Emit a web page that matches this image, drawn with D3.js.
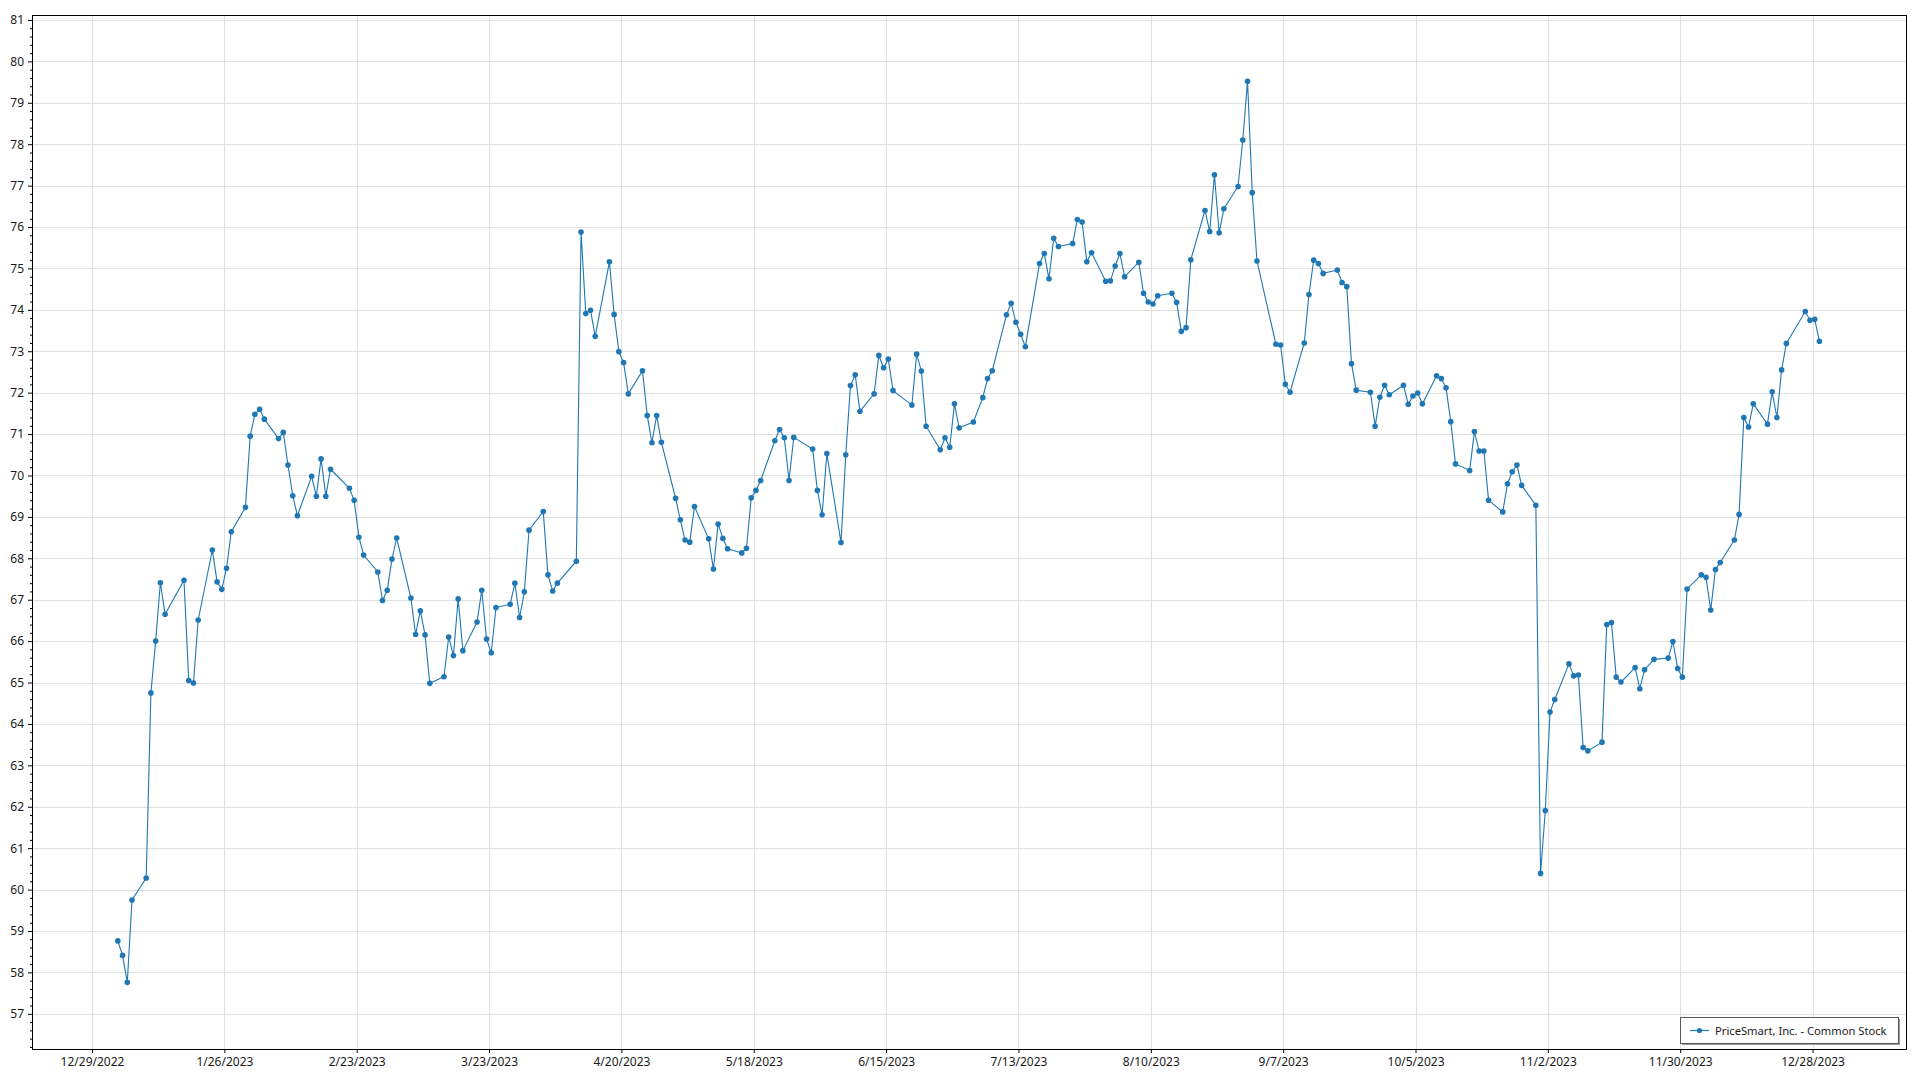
<!DOCTYPE html>
<html>
<head>
<meta charset="utf-8">
<script src="https://cdn.jsdelivr.net/npm/d3@7"></script>
<style>
  html, body { margin: 0; padding: 0; background: #ffffff; }
  svg { display: block; font-family: "Segoe UI", "Noto Sans", sans-serif; }
</style>
</head>
<body>
<svg id="chart" width="1920" height="1080"></svg>
<script>
// ---------- data ----------
const seriesName = "PriceSmart, Inc. - Common Stock";

const dates = [
"2023-01-03","2023-01-04","2023-01-05","2023-01-06","2023-01-09","2023-01-10","2023-01-11","2023-01-12","2023-01-13","2023-01-17",
"2023-01-18","2023-01-19","2023-01-20","2023-01-23","2023-01-24","2023-01-25","2023-01-26","2023-01-27","2023-01-30","2023-01-31",
"2023-02-01","2023-02-02","2023-02-03","2023-02-06","2023-02-07","2023-02-08","2023-02-09","2023-02-10","2023-02-13","2023-02-14",
"2023-02-15","2023-02-16","2023-02-17","2023-02-21","2023-02-22","2023-02-23","2023-02-24","2023-02-27","2023-02-28",
"2023-03-01","2023-03-02","2023-03-03","2023-03-06","2023-03-07","2023-03-08","2023-03-09","2023-03-10","2023-03-13","2023-03-14",
"2023-03-15","2023-03-16","2023-03-17","2023-03-20","2023-03-21","2023-03-22","2023-03-23","2023-03-24","2023-03-27","2023-03-28",
"2023-03-29","2023-03-30","2023-03-31",
"2023-04-03","2023-04-04","2023-04-05","2023-04-06","2023-04-10","2023-04-11","2023-04-12","2023-04-13","2023-04-14","2023-04-17",
"2023-04-18","2023-04-19","2023-04-20","2023-04-21","2023-04-24","2023-04-25","2023-04-26","2023-04-27","2023-04-28",
"2023-05-01","2023-05-02","2023-05-03","2023-05-04","2023-05-05","2023-05-08","2023-05-09","2023-05-10","2023-05-11","2023-05-12",
"2023-05-15","2023-05-16","2023-05-17","2023-05-18","2023-05-19","2023-05-22","2023-05-23","2023-05-24","2023-05-25","2023-05-26",
"2023-05-30","2023-05-31",
"2023-06-01","2023-06-02","2023-06-05","2023-06-06","2023-06-07","2023-06-08","2023-06-09","2023-06-12","2023-06-13","2023-06-14",
"2023-06-15","2023-06-16","2023-06-20","2023-06-21","2023-06-22","2023-06-23","2023-06-26","2023-06-27","2023-06-28","2023-06-29",
"2023-06-30",
"2023-07-03","2023-07-05","2023-07-06","2023-07-07","2023-07-10","2023-07-11","2023-07-12","2023-07-13","2023-07-14","2023-07-17",
"2023-07-18","2023-07-19","2023-07-20","2023-07-21","2023-07-24","2023-07-25","2023-07-26","2023-07-27","2023-07-28","2023-07-31",
"2023-08-01","2023-08-02","2023-08-03","2023-08-04","2023-08-07","2023-08-08","2023-08-09","2023-08-10","2023-08-11","2023-08-14",
"2023-08-15","2023-08-16","2023-08-17","2023-08-18","2023-08-21","2023-08-22","2023-08-23","2023-08-24","2023-08-25","2023-08-28",
"2023-08-29","2023-08-30","2023-08-31",
"2023-09-01","2023-09-05","2023-09-06","2023-09-07","2023-09-08","2023-09-11","2023-09-12","2023-09-13","2023-09-14","2023-09-15",
"2023-09-18","2023-09-19","2023-09-20","2023-09-21","2023-09-22","2023-09-25","2023-09-26","2023-09-27","2023-09-28","2023-09-29",
"2023-10-02","2023-10-03","2023-10-04","2023-10-05","2023-10-06","2023-10-09","2023-10-10","2023-10-11","2023-10-12","2023-10-13",
"2023-10-16","2023-10-17","2023-10-18","2023-10-19","2023-10-20","2023-10-23","2023-10-24","2023-10-25","2023-10-26","2023-10-27",
"2023-10-30","2023-10-31",
"2023-11-01","2023-11-02","2023-11-03","2023-11-06","2023-11-07","2023-11-08","2023-11-09","2023-11-10","2023-11-13","2023-11-14",
"2023-11-15","2023-11-16","2023-11-17","2023-11-20","2023-11-21","2023-11-22","2023-11-24","2023-11-27","2023-11-28","2023-11-29",
"2023-11-30",
"2023-12-01","2023-12-04","2023-12-05","2023-12-06","2023-12-07","2023-12-08","2023-12-11","2023-12-12","2023-12-13","2023-12-14",
"2023-12-15","2023-12-18","2023-12-19","2023-12-20","2023-12-21","2023-12-22","2023-12-26","2023-12-27","2023-12-28","2023-12-29"
];

const closes = [
58.76,58.41,57.76,59.75,60.28,64.75,66.00,67.41,66.65,67.47,
65.05,64.99,66.51,68.20,67.43,67.25,67.76,68.64,69.23,70.95,
71.48,71.60,71.36,70.89,71.04,70.25,69.51,69.03,69.98,69.50,
70.40,69.50,70.15,69.69,69.40,68.51,68.08,67.67,66.98,
67.23,67.98,68.49,67.04,66.16,66.73,66.15,64.98,65.14,66.10,
65.65,67.02,65.77,66.46,67.23,66.05,65.72,66.81,66.89,67.40,
66.57,67.19,68.68,
69.13,67.60,67.21,67.40,67.93,75.88,73.91,73.99,73.36,75.16,
73.89,72.99,72.73,71.97,72.53,71.45,70.79,71.45,70.80,
69.45,68.93,68.44,68.39,69.25,68.47,67.74,68.83,68.48,68.23,
68.13,68.24,69.46,69.64,69.88,70.84,71.11,70.91,69.88,70.92,
70.64,69.64,
69.05,70.53,68.38,70.50,72.17,72.43,71.55,71.97,72.90,72.60,
72.81,72.05,71.70,72.93,72.52,71.19,70.62,70.91,70.68,71.73,
71.15,
71.29,71.88,72.34,72.53,73.88,74.16,73.70,73.41,73.11,75.12,
75.36,74.75,75.73,75.53,75.60,76.18,76.12,75.16,75.38,74.69,
74.70,75.06,75.36,74.80,75.15,74.40,74.19,74.14,74.34,74.40,
74.18,73.48,73.57,75.21,76.40,75.89,77.26,75.86,76.44,76.98,
78.10,79.52,76.83,
75.18,73.17,73.15,72.20,72.01,73.20,74.37,75.20,75.12,74.88,
74.96,74.66,74.56,72.70,72.06,72.01,71.19,71.89,72.18,71.95,
72.18,71.72,71.92,71.99,71.73,72.41,72.34,72.12,71.30,70.28,
70.12,71.06,70.59,70.59,69.40,69.12,69.80,70.09,70.25,69.76,
69.28,60.39,
61.91,64.29,64.59,65.45,65.16,65.18,63.43,63.35,63.56,66.40,
66.45,65.13,65.01,65.36,64.85,65.31,65.56,65.59,65.99,65.34,
65.13,
67.26,67.60,67.54,66.75,67.73,67.90,68.44,69.06,71.40,71.17,
71.73,71.24,72.02,71.40,72.55,73.19,73.96,73.75,73.77,73.24
];

const xTickLabels = ["12/29/2022","1/26/2023","2/23/2023","3/23/2023","4/20/2023","5/18/2023","6/15/2023",
                     "7/13/2023","8/10/2023","9/7/2023","10/5/2023","11/2/2023","11/30/2023","12/28/2023"];
const yTickValues = [57,58,59,60,61,62,63,64,65,66,67,68,69,70,71,72,73,74,75,76,77,78,79,80,81];
const yDomain = [56.15, 81.12];

// ---------- layout ----------
const W = 1920, H = 1080;
const plot = { left: 32, top: 15, right: 1906, bottom: 1049 };
const lineColor = "#1f77b4";

const parseDate = d3.utcParse("%Y-%m-%d");
const parseTick = d3.utcParse("%m/%d/%Y");
const data = dates.map((d, i) => ({ date: parseDate(d), value: closes[i] }));
const xTicks = xTickLabels.map(s => parseTick(s));

const DAY = 864e5;
const anchor = xTicks[0].getTime();
const x = d3.scaleUtc()
  .domain([new Date(anchor - 12.7 * DAY), new Date(anchor + 383.77 * DAY)])
  .range([plot.left, plot.right]);
const y = d3.scaleLinear().domain(yDomain).range([plot.bottom, plot.top]);

// data stamps sit ~11h after midnight in the source
const px = d => x(new Date(d.date.getTime() + 11 * 3600e3));

const svg = d3.select("#chart");
svg.append("rect").attr("width", W).attr("height", H).attr("fill", "#ffffff");

// gridlines
const grid = svg.append("g").attr("stroke", "#e0e0e0").attr("stroke-width", 1).attr("shape-rendering", "crispEdges");
grid.selectAll("line.h").data(yTickValues).join("line")
  .attr("x1", plot.left).attr("x2", plot.right)
  .attr("y1", d => Math.round(y(d)) + 0.5).attr("y2", d => Math.round(y(d)) + 0.5);
grid.selectAll("line.v").data(xTicks).join("line")
  .attr("y1", plot.top).attr("y2", plot.bottom)
  .attr("x1", d => Math.round(x(d)) + 0.5).attr("x2", d => Math.round(x(d)) + 0.5);

// axes
const fmt = d3.utcFormat("%-m/%-d/%Y");
const xAxis = svg.append("g").attr("transform", `translate(0,${plot.bottom})`)
  .call(d3.axisBottom(x).tickValues(xTicks).tickFormat(fmt).tickSize(4).tickPadding(4));
const yAxis = svg.append("g").attr("transform", `translate(${plot.left},0)`)
  .call(d3.axisLeft(y).tickValues(yTickValues).tickFormat(d3.format("d")).tickSize(4).tickPadding(4));
const minorVals = d3.range(56.2, 81.1, 0.2).filter(v => Math.abs(v - Math.round(v)) > 0.05);
svg.append("g").attr("transform", `translate(${plot.left},0)`)
  .call(d3.axisLeft(y).tickValues(minorVals).tickFormat("").tickSize(2))
  .call(g => g.select(".domain").remove());
[xAxis, yAxis].forEach(g => {
  g.select(".domain").remove();
  g.selectAll("text").attr("font-size", 12).attr("fill", "#1a1a1a")
    .attr("font-family", "'Segoe UI', 'Noto Sans', sans-serif");
  g.selectAll("line").attr("stroke", "#000");
});
svg.selectAll(".tick line").attr("stroke", "#000");

// frame
svg.append("rect")
  .attr("x", plot.left + 0.5).attr("y", plot.top + 0.5)
  .attr("width", plot.right - plot.left).attr("height", plot.bottom - plot.top)
  .attr("fill", "none").attr("stroke", "#000").attr("stroke-width", 1);

// series
const line = d3.line().x(px).y(d => y(d.value));
svg.append("path").datum(data)
  .attr("fill", "none").attr("stroke", lineColor).attr("stroke-width", 1.1).attr("d", line);
svg.append("g").selectAll("circle").data(data).join("circle")
  .attr("cx", px).attr("cy", d => y(d.value)).attr("r", 2.8).attr("fill", lineColor);

// legend
const lg = svg.append("g").attr("transform", "translate(1680,1017)");
lg.append("rect").attr("x", 2).attr("y", 2).attr("width", 218).attr("height", 26).attr("fill", "#9a9a9a");
lg.append("rect").attr("x", 0.5).attr("y", 0.5).attr("width", 218).attr("height", 26)
  .attr("fill", "#ffffff").attr("stroke", "#5a5a5a").attr("stroke-width", 1);
lg.append("line").attr("x1", 10).attr("x2", 29).attr("y1", 13.5).attr("y2", 13.5)
  .attr("stroke", lineColor).attr("stroke-width", 1.2);
lg.append("circle").attr("cx", 19.5).attr("cy", 13.5).attr("r", 2.6).attr("fill", lineColor);
lg.append("text").attr("x", 35).attr("y", 17.5).attr("font-size", 11.2).attr("fill", "#1a1a1a")
  .text(seriesName);
</script>
</body>
</html>
